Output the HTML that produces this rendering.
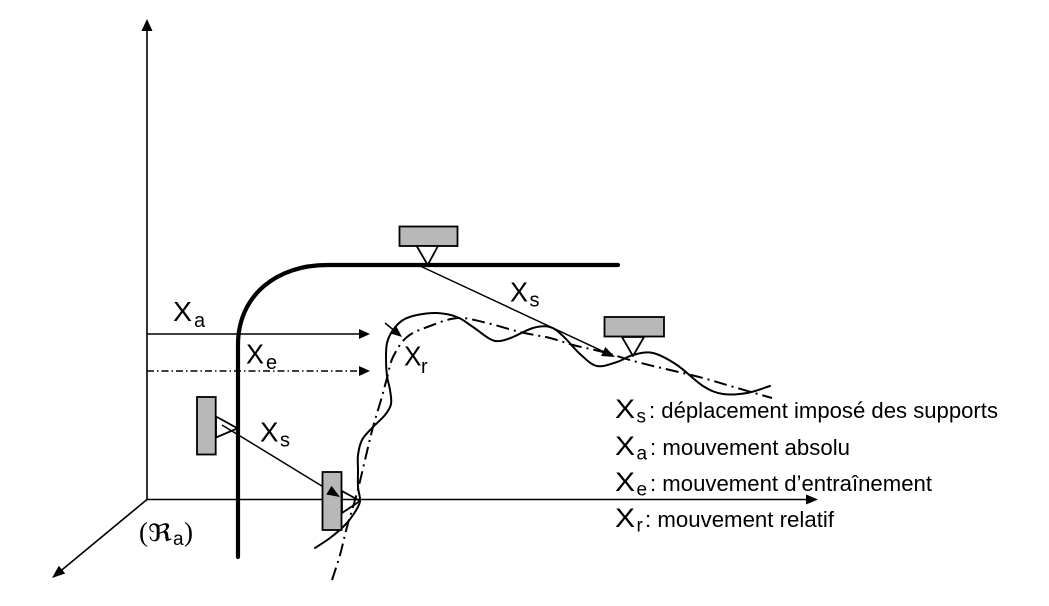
<!DOCTYPE html>
<html>
<head>
<meta charset="utf-8">
<style>
  html, body { margin: 0; padding: 0; background: #ffffff; }
  body { width: 1049px; height: 606px; overflow: hidden; }
  svg { display: block; }
  .sans { font-family: "Liberation Sans", "DejaVu Sans", sans-serif; }
</style>
</head>
<body>
<svg width="1049" height="606" viewBox="0 0 1049 606" xmlns="http://www.w3.org/2000/svg">
  <rect x="0" y="0" width="1049" height="606" fill="#ffffff"/>

  <!-- Axes -->
  <line x1="147" y1="499.5" x2="147" y2="28" stroke="#000" stroke-width="1.6"/>
  <polygon points="147,19 141.5,31 152.5,31" fill="#000"/>
  <line x1="147" y1="499.5" x2="808" y2="499.5" stroke="#000" stroke-width="1.6"/>
  <polygon points="818,499.5 806,494.5 806,504.5" fill="#000"/>
  <line x1="147" y1="499.5" x2="60" y2="571.5" stroke="#000" stroke-width="1.6"/>
  <polygon points="52,578 65.2,573.5 58.8,565.8" fill="#000"/>

  <!-- Thick beam (initial position) -->
  <path d="M238,557 L238,345 C238,295 277,265 327,265 L618,265" fill="none" stroke="#000" stroke-width="4.2" stroke-linecap="round" stroke-linejoin="round"/>

  <!-- X_a arrow -->
  <line x1="147" y1="334" x2="361" y2="334" stroke="#000" stroke-width="1.5"/>
  <polygon points="370,334 359,329 359,339" fill="#000"/>
  <!-- X_e arrow (dash-dot) -->
  <line x1="147" y1="371" x2="361" y2="371" stroke="#000" stroke-width="1.5" stroke-dasharray="7 3 1.5 3"/>
  <polygon points="370,371 359,366 359,376" fill="#000"/>

  <!-- Dash-dot curve -->
  <path id="dd" d="M332,580 L340,555 L347,527 L357,493 L365,460 L373,427 L381,400 L387,378 L393,357 L407,337 L430,326 L458,318 L487,323 L520,332 L550,338 L573,345 L603,352 L637,362 L670,370 L703,378 L737,388 L772,398" fill="none" stroke="#000" stroke-width="2" stroke-dasharray="13 5 2 5" stroke-linecap="butt"/>

  <!-- Solid wiggly curve -->
  <path id="wig" d="M315,548 L330,538 L345,525 L355,512 L360,501 L358,487 L358,470 L358,455 L362,440 L372,428 L385,415 L391,404 L390,390 L387,376 L386,360 L387,343 L393,330 L403,320 L417,315 L437,313 L457,317 L473,327 L490,339 L500,341 L513,337 L533,328 L550,327 L563,336 L580,354 L597,366 L617,362 L633,355 L653,353 L677,365 L703,386 L723,394 L747,393 L770,386" fill="none" stroke="#000" stroke-width="2" stroke-linejoin="round" stroke-linecap="round"/>

  <!-- X_r arrow -->
  <line x1="385" y1="323" x2="396" y2="332" stroke="#000" stroke-width="1.5"/>
  <polygon points="402,337 390.6,333.5 396.4,326.5" fill="#000"/>

  <!-- Top support -->
  <rect x="399.5" y="226.5" width="58" height="19.5" fill="#b8b8b8" stroke="#000" stroke-width="1.8"/>
  <polygon points="416.7,246 438,246 427.7,265" fill="#fff" stroke="#000" stroke-width="1.8" stroke-linejoin="round"/>

  <!-- X_s top arrow -->
  <line x1="418" y1="265" x2="605" y2="352.3" stroke="#000" stroke-width="1.5"/>
  <polygon points="615,357 601.1,356 605.3,347" fill="#000"/>

  <!-- Right support -->
  <rect x="604.5" y="317" width="59.5" height="19.5" fill="#b8b8b8" stroke="#000" stroke-width="1.8"/>
  <polygon points="622,337 644,337 633,356" fill="#fff" stroke="#000" stroke-width="1.8" stroke-linejoin="round"/>

  <!-- Left support -->
  <rect x="197" y="397" width="18.7" height="57.5" fill="#b8b8b8" stroke="#000" stroke-width="1.8"/>
  <polygon points="216,416.5 216,437.5 237.5,428.3" fill="none" stroke="#000" stroke-width="1.8" stroke-linejoin="round"/>

  <!-- X_s left arrow -->
  <line x1="222" y1="425" x2="330" y2="491" stroke="#000" stroke-width="1.5"/>

  <!-- Lower support -->
  <rect x="322.5" y="472" width="19" height="58" fill="#b8b8b8" stroke="#000" stroke-width="1.8"/>
  <polygon points="342,491 342,513 360,501" fill="none" stroke="#000" stroke-width="1.8" stroke-linejoin="round"/>
  <polygon points="340,497 326.3,494.5 331.5,485.9" fill="#000"/>

  <!-- Diagram labels -->
  <g class="sans" fill="#000">
    <text x="173" y="321" font-size="28" textLength="19" lengthAdjust="spacingAndGlyphs">X</text>
    <text x="194" y="327" font-size="20">a</text>

    <text x="246" y="363.5" font-size="28" textLength="18" lengthAdjust="spacingAndGlyphs">X</text>
    <text x="266" y="369" font-size="20">e</text>

    <text x="260" y="441.5" font-size="28" textLength="18.5" lengthAdjust="spacingAndGlyphs">X</text>
    <text x="280" y="446.5" font-size="20">s</text>

    <text x="510" y="301.7" font-size="28" textLength="18" lengthAdjust="spacingAndGlyphs">X</text>
    <text x="529.5" y="306.7" font-size="20">s</text>

    <text x="404" y="365.5" font-size="28" textLength="17.5" lengthAdjust="spacingAndGlyphs">X</text>
    <text x="421" y="373" font-size="20">r</text>
  </g>

  <!-- Frame label -->
  <text x="139" y="541" font-family="'Liberation Serif', 'DejaVu Serif', serif" font-size="27">(</text>
  <text x="148" y="541" font-family="'DejaVu Serif', 'Liberation Serif', serif" font-size="24" textLength="24" lengthAdjust="spacingAndGlyphs">ℜ</text>
  <text x="173" y="545" class="sans" font-size="19">a</text>
  <text x="184" y="541" font-family="'Liberation Serif', 'DejaVu Serif', serif" font-size="27">)</text>

  <!-- Legend -->
  <g class="sans" fill="#000">
    <text x="615" y="418" font-size="27" textLength="20" lengthAdjust="spacingAndGlyphs">X</text>
    <text x="636.5" y="422.5" font-size="19">s</text>
    <text x="649" y="418" font-size="22" textLength="349" lengthAdjust="spacingAndGlyphs">: déplacement imposé des supports</text>

    <text x="615" y="455" font-size="27" textLength="20" lengthAdjust="spacingAndGlyphs">X</text>
    <text x="636.5" y="459.5" font-size="19">a</text>
    <text x="650" y="455" font-size="22" textLength="200" lengthAdjust="spacingAndGlyphs">: mouvement absolu</text>

    <text x="615" y="491" font-size="27" textLength="20" lengthAdjust="spacingAndGlyphs">X</text>
    <text x="636.5" y="495.5" font-size="19">e</text>
    <text x="650" y="491" font-size="22" textLength="282" lengthAdjust="spacingAndGlyphs">: mouvement d’entraînement</text>

    <text x="615" y="527" font-size="27" textLength="20" lengthAdjust="spacingAndGlyphs">X</text>
    <text x="636.5" y="531.5" font-size="19">r</text>
    <text x="645" y="527" font-size="22" textLength="189" lengthAdjust="spacingAndGlyphs">: mouvement relatif</text>
  </g>
</svg>
<script>
(function(){
  function smooth(id){
    var el = document.getElementById(id);
    if(!el) return;
    var d = el.getAttribute('d');
    var nums = d.replace(/[ML]/g,' ').trim().split(/[\s,]+/).map(Number);
    var p = [];
    for (var i=0;i<nums.length;i+=2) p.push([nums[i],nums[i+1]]);
    var out = 'M' + p[0][0] + ',' + p[0][1];
    for (var j=0;j<p.length-1;j++){
      var p0 = p[j-1] || p[j], p1 = p[j], p2 = p[j+1], p3 = p[j+2] || p[j+1];
      var c1x = p1[0] + (p2[0]-p0[0])/6, c1y = p1[1] + (p2[1]-p0[1])/6;
      var c2x = p2[0] - (p3[0]-p1[0])/6, c2y = p2[1] - (p3[1]-p1[1])/6;
      out += ' C' + c1x.toFixed(2) + ',' + c1y.toFixed(2) + ' ' + c2x.toFixed(2) + ',' + c2y.toFixed(2) + ' ' + p2[0] + ',' + p2[1];
    }
    el.setAttribute('d', out);
  }
  smooth('dd');
  smooth('wig');
})();
</script>
</body>
</html>
